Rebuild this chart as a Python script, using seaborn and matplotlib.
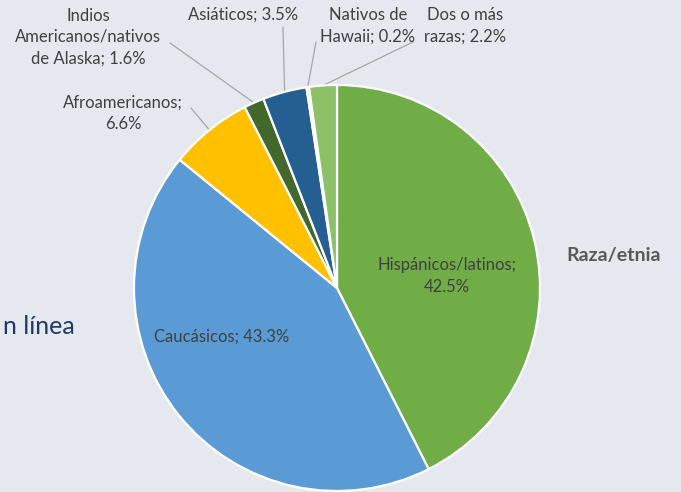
import numpy as np
import matplotlib
matplotlib.use("Agg")
import matplotlib.pyplot as plt
import seaborn as sns

# Distribution by race / ethnicity (percent)
categories = [
    "Hispánicos/latinos",
    "Caucásicos",
    "Afroamericanos",
    "Indios\nAmericanos/nativos\nde Alaska",
    "Asiáticos",
    "Nativos de\nHawaii",
    "Dos o más\nrazas",
]
values = [42.5, 43.3, 6.6, 1.6, 3.5, 0.2, 2.2]
label_texts = [
    "Hispánicos/latinos;\n42.5%",
    "Caucásicos; 43.3%",
    "Afroamericanos;\n6.6%",
    "Indios\nAmericanos/nativos\nde Alaska; 1.6%",
    "Asiáticos; 3.5%",
    "Nativos de\nHawaii; 0.2%",
    "Dos o más\nrazas; 2.2%",
]
colors = ["#70AD47", "#5B9BD5", "#FFC000", "#43682B", "#255E91", "#F1975A", "#8CC168"]

sns.set_theme(style="white")
plt.rcParams["font.family"] = ["Lato", "DejaVu Sans"]

W, H = 681, 492
BG = "#E5E8EF"
fig = plt.figure(figsize=(W / 100, H / 100), dpi=100, facecolor=BG)
ax = fig.add_axes([0, 0, 1, 1])
ax.set_facecolor(BG)

cx, cy, R = 337, H - 288, 203
wedges, _ = ax.pie(
    values, colors=colors, startangle=90, counterclock=False,
    center=(cx, cy), radius=R, frame=True,
    wedgeprops=dict(edgecolor="white", linewidth=1.6),
)
ax.set_xlim(0, W)
ax.set_ylim(0, H)
ax.set_aspect("equal")
ax.axis("off")

txt_color = "#404040"
fs = 12

def mid_point(w, r):
    ang = np.deg2rad((w.theta1 + w.theta2) / 2)
    return cx + r * np.cos(ang), cy + r * np.sin(ang)

# Inside labels
ax.text(447, H - 276, label_texts[0], ha="center", va="center",
        fontsize=fs, color=txt_color, linespacing=1.4)
ax.text(222, H - 337, label_texts[1], ha="center", va="center",
        fontsize=fs, color=txt_color)

# Outside labels with leader lines: (text centre, line start)
outside = {
    2: ((123, 113), (191, 108)),
    3: ((88, 37), (170, 43)),
    4: ((243, 15), (283, 27)),
    5: ((368, 26), (316, 42)),
    6: ((465, 26), (413, 42)),
}
for i, ((tx, ty), (lx, ly)) in outside.items():
    ax.text(tx, H - ty, label_texts[i], ha="center", va="center",
            fontsize=fs, color=txt_color, linespacing=1.4)
    ex, ey = mid_point(wedges[i], R)
    ax.plot([lx, ex], [H - ly, ey], color="#A6A6A6", lw=0.9, zorder=0.5)

ax.text(614, H - 256, "Raza/etnia", ha="center", va="center",
        fontsize=14, fontweight="bold", color="#595959")
ax.text(3, H - 327, "n línea", ha="left", va="center",
        fontsize=18, color="#1F3864")

fig.savefig("out.png", dpi=100, facecolor=BG)
